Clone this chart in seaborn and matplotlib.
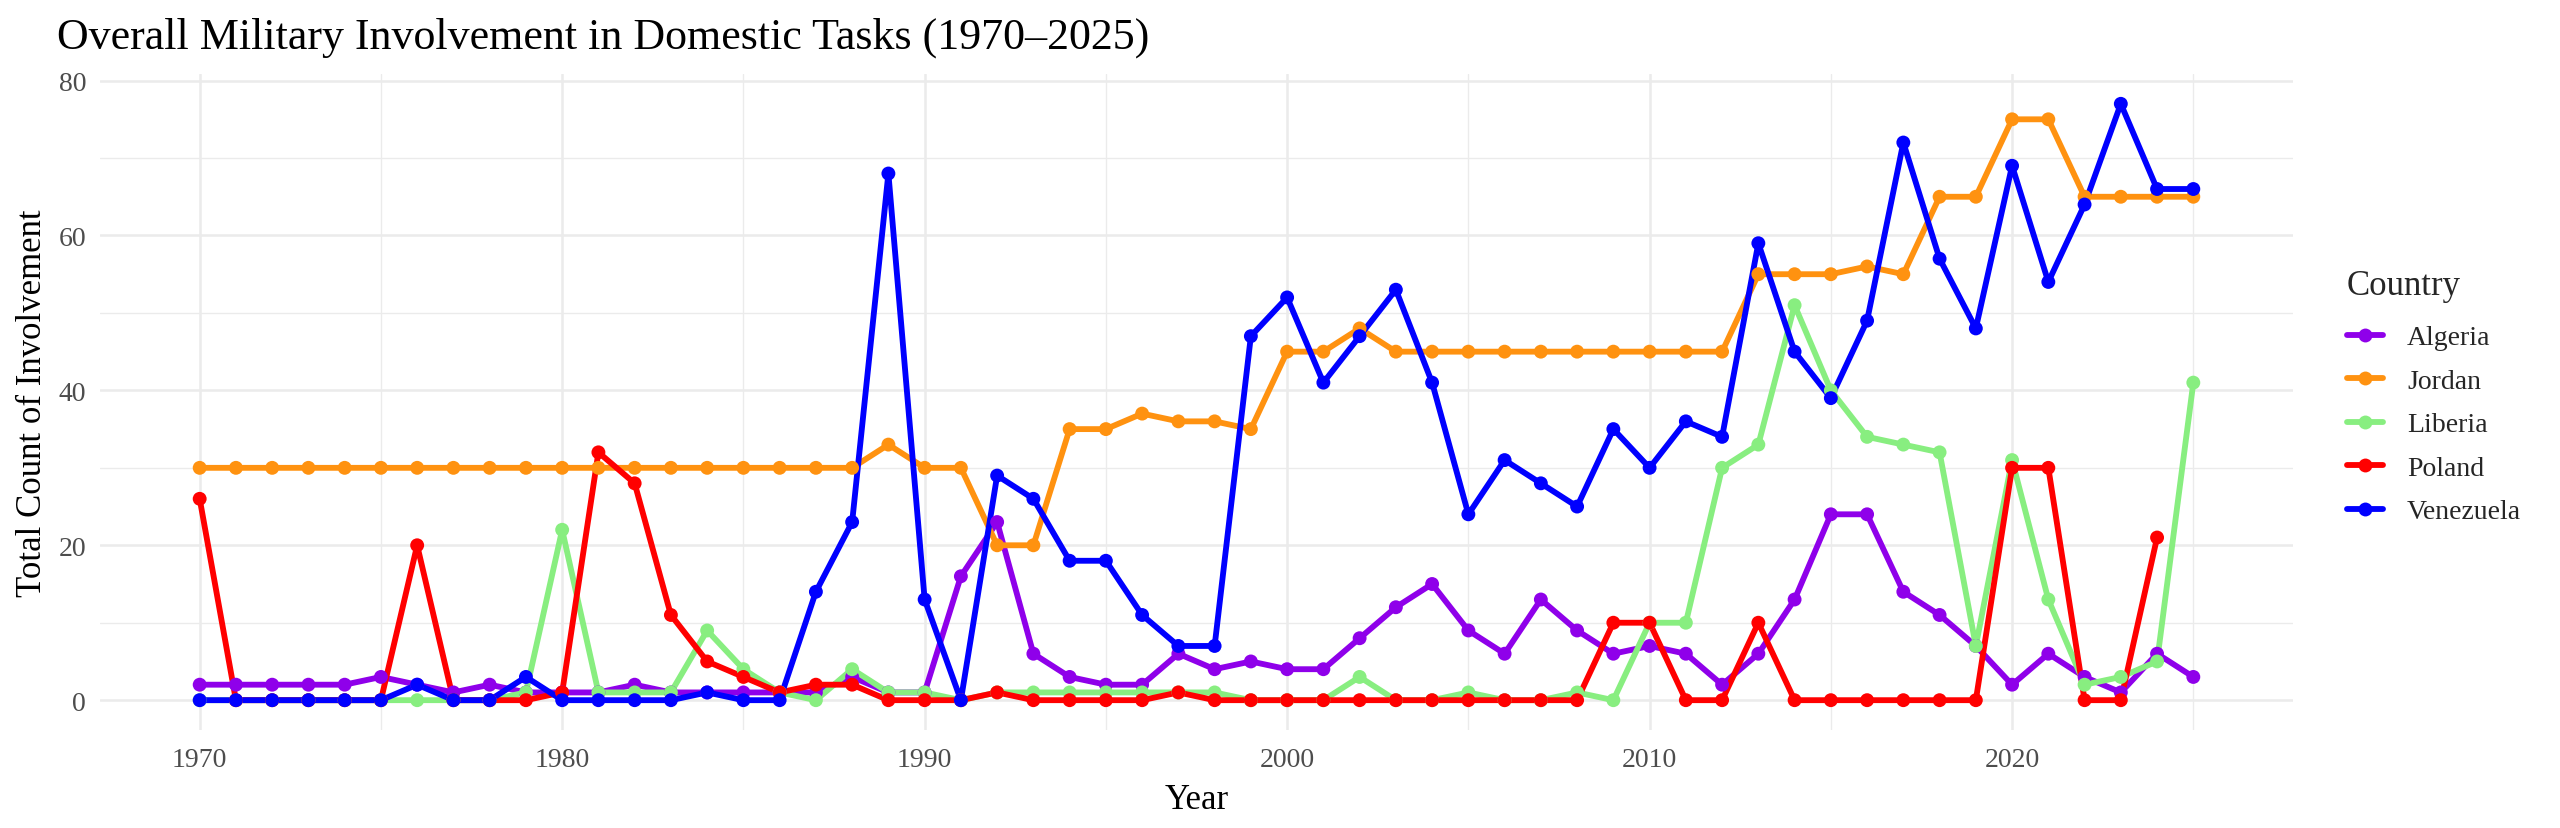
import numpy as np
import pandas as pd
import matplotlib
matplotlib.use("Agg")
import matplotlib.pyplot as plt
import seaborn as sns
from matplotlib.lines import Line2D
from matplotlib.ticker import MultipleLocator

years = list(range(1970, 2026))

algeria = [2, 2, 2, 2, 2, 3, 2, 1, 2, 1,
           1, 1, 2, 1, 1, 1, 1, 1, 3, 1,
           1, 16, 23, 6, 3, 2, 2, 6, 4, 5,
           4, 4, 8, 12, 15, 9, 6, 13, 9, 6,
           7, 6, 2, 6, 13, 24, 24, 14, 11, 7,
           2, 6, 3, 1, 6, 3]

jordan = [30] * 19 + [33, 30, 30, 20, 20, 35, 35, 37, 36, 36, 35, 45, 45, 48, 45] + \
         [45] * 9 + [55, 55, 55, 56, 55, 65, 65, 75, 75, 65, 65, 65, 65]

liberia = [0, 0, 0, 0, 0, 0, 0, 0, 0, 1,
           22, 1, 1, 1, 9, 4, 1, 0, 4, 1,
           1, 0, 1, 1, 1, 1, 1, 1, 1, 0,
           0, 0, 3, 0, 0, 1, 0, 0, 1, 0,
           10, 10, 30, 33, 51, 40, 34, 33, 32, 7,
           31, 13, 2, 3, 5, 41]

poland = [26, 0, 0, 0, 0, 0, 20, 0, 0, 0,
          1, 32, 28, 11, 5, 3, 1, 2, 2, 0,
          0, 0, 1, 0, 0, 0, 0, 1, 0, 0,
          0, 0, 0, 0, 0, 0, 0, 0, 0, 10,
          10, 0, 0, 10, 0, 0, 0, 0, 0, 0,
          30, 30, 0, 0, 21, np.nan]

venezuela = [0, 0, 0, 0, 0, 0, 2, 0, 0, 3,
             0, 0, 0, 0, 1, 0, 0, 14, 23, 68,
             13, 0, 29, 26, 18, 18, 11, 7, 7, 47,
             52, 41, 47, 53, 41, 24, 31, 28, 25, 35,
             30, 36, 34, 59, 45, 39, 49, 72, 57, 48,
             69, 54, 64, 77, 66, 66]

countries = ["Algeria", "Jordan", "Liberia", "Poland", "Venezuela"]
colors = ["#8F00EA", "#FF9210", "#88EE80", "#FF0000", "#0000FF"]

series = {"Algeria": algeria, "Jordan": jordan, "Liberia": liberia,
          "Poland": poland, "Venezuela": venezuela}
frames = []
for c in countries:
    frames.append(pd.DataFrame({"Year": years, "Count": series[c], "Country": c}))
df = pd.concat(frames, ignore_index=True).dropna()

sns.set_style("white")
plt.rcParams["font.family"] = ["Liberation Serif", "DejaVu Serif"]

W, H, DPI = 2560, 829, 100
fig = plt.figure(figsize=(W / DPI, H / DPI), dpi=DPI)
ax = fig.add_axes([100 / W, 1 - 731 / H, (2293 - 100) / W, (731 - 75) / H])

palette = dict(zip(countries, colors))
lw = 4.2
ms = 10

sns.lineplot(data=df, x="Year", y="Count", hue="Country", hue_order=countries,
             palette=palette, linewidth=lw, legend=False, ax=ax, zorder=3)
sns.scatterplot(data=df, x="Year", y="Count", hue="Country", hue_order=countries,
                palette=palette, s=ms ** 2, linewidth=0, legend=False, ax=ax, zorder=4)

ax.set_xlim(1967.25, 2027.75)
ax.set_ylim(-3.85, 80.85)
ax.xaxis.set_major_locator(MultipleLocator(10))
ax.xaxis.set_minor_locator(MultipleLocator(5))
ax.yaxis.set_major_locator(MultipleLocator(20))
ax.yaxis.set_minor_locator(MultipleLocator(10))
ax.grid(which="major", color="#EBEBEB", linewidth=1.8, zorder=0)
ax.grid(which="minor", color="#EBEBEB", linewidth=0.95, zorder=0)
ax.set_axisbelow(True)
for s in ax.spines.values():
    s.set_visible(False)
ax.tick_params(which="both", length=0)
ax.tick_params(axis="x", labelsize=20, labelcolor="#4D4D4D", pad=12)
ax.tick_params(axis="y", labelsize=20, labelcolor="#4D4D4D", pad=10)

ax.set_xlabel("Year", fontsize=25, color="black", labelpad=8)
ax.set_ylabel("Total Count of Involvement", fontsize=25, color="black", labelpad=7)

fig.text(57 / W, 1 - 49 / H, "Overall Military Involvement in Domestic Tasks (1970\u20132025)",
         fontsize=31.7, color="black", ha="left", va="baseline")

handles = [Line2D([], [], color=c, linewidth=lw, marker="o", markersize=ms,
                  markeredgewidth=0) for c in colors]

FS = 20
fs_px = FS * DPI / 72.0
# targets in pixels from top-left of the figure
T_TITLE_LEFT, T_TITLE_CY = 2347, 287
T_FIRST_CY, T_STEP, T_TEXT_LEFT = 339, 43.5, 2407

params = {"ls": 0.64, "sep": 17.0, "htp": 1.5, "ax": T_TITLE_LEFT, "ay": 273}
leg = None


def build():
    global leg
    if leg is not None:
        leg.remove()
    leg = fig.legend(handles, countries, title="Country", loc="upper left",
                     bbox_to_anchor=(params["ax"] / W, 1 - params["ay"] / H),
                     frameon=False, fontsize=FS, title_fontsize=25,
                     handlelength=1.3, handletextpad=params["htp"],
                     labelspacing=params["ls"], borderpad=0, borderaxespad=0,
                     alignment="left")
    leg._legend_box.sep = params["sep"]


for _ in range(4):
    build()
    fig.canvas.draw()
    r = fig.canvas.get_renderer()
    tb = leg.get_title().get_window_extent(r)
    tbs = [t.get_window_extent(r) for t in leg.get_texts()]
    title_cy = H - (tb.y0 + tb.y1) / 2
    title_left = tb.x0
    cys = [H - (b.y0 + b.y1) / 2 for b in tbs]
    step = np.mean(np.diff(cys))
    gap = cys[0] - title_cy
    text_left = tbs[0].x0
    params["ls"] += (T_STEP - step) / fs_px
    params["sep"] += (T_FIRST_CY - T_TITLE_CY - gap) * 72.0 / DPI
    params["htp"] += (T_TEXT_LEFT - T_TITLE_LEFT - (text_left - title_left)) / fs_px
    params["ay"] += T_TITLE_CY - title_cy
    params["ax"] += T_TITLE_LEFT - title_left

build()
fig.savefig("out.png", dpi=DPI)
